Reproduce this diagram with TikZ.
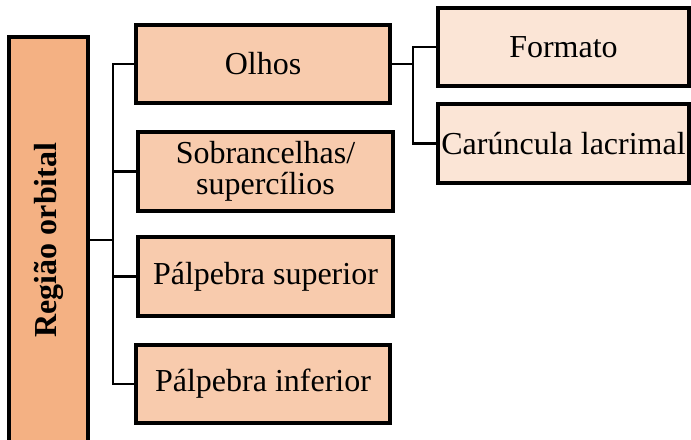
\documentclass[tikz,border=0pt]{standalone}
\usepackage{fontspec}
\setmainfont{Liberation Serif}
\usepackage{xcolor}
\usepackage{tikz}
\definecolor{orbcolor}{HTML}{F4B183}
\definecolor{midcolor}{HTML}{F8CBAD}
\definecolor{lightcolor}{HTML}{FBE5D6}

\begin{document}
\begin{tikzpicture}[x=0.75pt,y=-0.75pt,
  box/.style={draw=black, line width=2.8pt, inner sep=0pt, align=center,
    font=\fontsize{24}{23.5}\selectfont, minimum width=190.5pt, minimum height=58.5pt},
  wire/.style={line width=1.6pt}]
\useasboundingbox (0,0) rectangle (691,439);
\clip (0,0) rectangle (691,439);
\node [box, fill=orbcolor, minimum width=59.25pt, minimum height=304.5pt] (orb) at (48.5,240) {};
\node [rotate=90, font=\fontsize{24}{27}\selectfont\bfseries] (orbtext) at (48.5,240) {Região orbital};
\node [box, fill=midcolor] (olhos) at (263,64) {Olhos};
\node [box, fill=midcolor, minimum width=191.25pt, minimum height=59.25pt] (sob) at (265.5,171.5) {Sobrancelhas/\\supercílios};
\node [box, fill=midcolor, minimum width=191.25pt, minimum height=59.25pt] (sup) at (265.5,276.5) {Pálpebra superior};
\node [box, fill=midcolor] (inf) at (263,384) {Pálpebra inferior};
\node [box, fill=lightcolor, minimum width=188.25pt] (form) at (563.5,47) {Formato};
\node [box, fill=lightcolor, minimum width=188.25pt, minimum height=59.25pt] (car) at (563.5,143.5) {Carúncula lacrimal};
\coordinate [] (jl) at (113,240);
\coordinate [] (jr) at (413,64);
\draw[wire] (orb.east) -- (jl);
\draw[wire] (olhos.west) -- (olhos.west -| jl) -- (inf.west -| jl) -- (inf.west);
\draw[wire] (sob.west) -- (sob.west -| jl);
\draw[wire] (sup.west) -- (sup.west -| jl);
\draw[wire] (olhos.east) -- (jr);
\draw[wire] (form.west) -- (form.west -| jr) -- (car.west -| jr) -- (car.west);
\end{tikzpicture}
\end{document}
